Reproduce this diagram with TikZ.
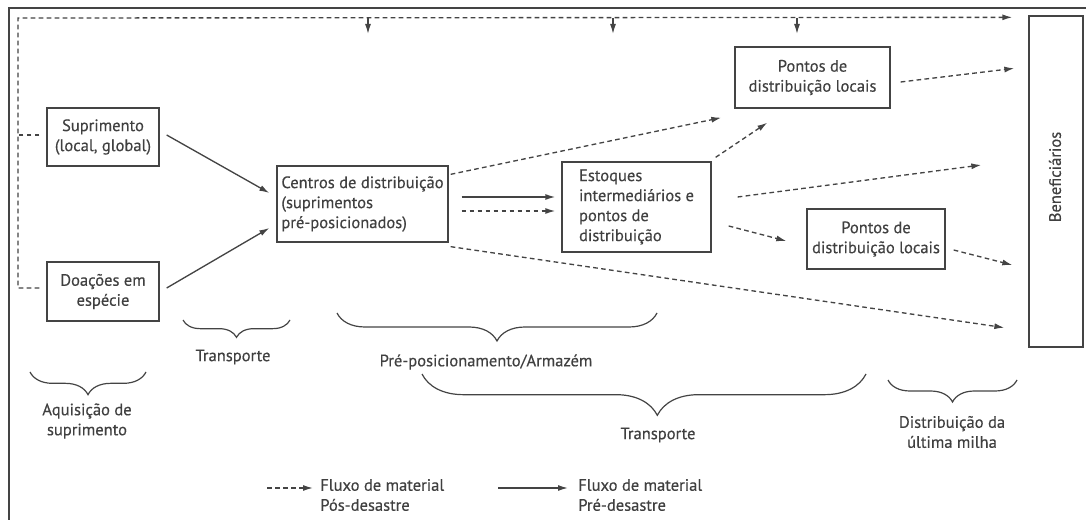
\documentclass[tikz,border=0pt]{standalone}
\usepackage{fontspec}
\setmainfont{PT Sans}
\newfontfamily\medsans[FakeBold=0.4]{PT Sans}
\usetikzlibrary{arrows.meta,calc,decorations.pathreplacing}
\definecolor{ln}{HTML}{444444}
\definecolor{tx}{HTML}{404040}
\begin{document}
\begin{tikzpicture}[x=0.75pt,y=-0.75pt,
  font=\medsans\fontsize{12.4}{15}\selectfont, text=tx,
  box/.style={draw=ln, line width=1pt, inner sep=0pt, align=center},
  flow/.style={draw=ln, line width=1pt, -{Latex[length=7.5pt,width=4.5pt]}},
  post/.style={flow, dash pattern=on 3.5pt off 2.5pt},
  pre/.style={flow},
  dashln/.style={draw=ln, line width=1pt, dash pattern=on 3.5pt off 2.5pt},
  brc/.style={draw=ln, line width=0.9pt, decorate, decoration={brace, mirror, amplitude=#1}},
  lbl/.style={align=center, inner sep=0pt}]

\useasboundingbox (0,0) rectangle (1086,520);
\draw[ln, line width=1pt] (1086,8) -- (9,8) -- (9,520);

% boxes
\node[box, minimum width=84pt, minimum height=43.5pt] (sup) at (103,137) {Suprimento\\(local, global)};
\node[box, minimum width=84pt, minimum height=44.25pt] (doa) at (103,291.5) {Doações em\\espécie};
\node[box, align=left, minimum width=128.25pt, minimum height=57pt] (cen) at (362.5,204) {Centros de distribuição\\(suprimentos\\pré-posicionados)};
\node[box, align=left, minimum width=111.75pt, minimum height=67.5pt] (est) at (636.5,207) {Estoques\\intermediários e\\pontos de\\distribuição};
\node[box, minimum width=116.25pt, minimum height=45.75pt] (p1) at (812.5,77.5) {Pontos de\\distribuição locais};
\node[box, minimum width=103.5pt, minimum height=45pt] (p2) at (876,239) {Pontos de\\distribuição locais};
\node[box, minimum width=40.5pt, minimum height=248.25pt] (ben) at (1056,181.5) {};
\node[rotate=90, inner sep=0pt] (bentext) at (1055,177) {Beneficiários};

% pre-disaster flows
\draw[pre] ($(sup.east)+(7,-2)$) -- ($(cen.west)+(-7,-11)$);
\draw[pre] ($(doa.east)+(7,-3.5)$) -- ($(cen.west)+(-7,24)$);
\draw[pre] ($(cen.east)+(13,-7)$) -- ($(est.west)+(-6,-10)$);

% post-disaster flows
\draw[post] ($(cen.east)+(13,7)$) -- ($(est.west)+(-6,4)$);
\draw[post] ($(cen.north east)+(2,9)$) -- ($(p1.south west)+(-13,9)$);
\draw[post] ($(est.north east)+(4,-4)$) -- ($(p1.south west)+(33,14)$);
\draw[post] ($(p1.east)+(10,4.5)$) -- ($(ben.north west)+(-14,53)$);
\draw[post] ($(est.east)+(26,-10)$) -- ($(ben.west)+(-47,-16.5)$);
\draw[post] ($(est.east)+(17,19)$) -- ($(p2.west)+(-20,2)$);
\draw[post] ($(p2.east)+(8,11)$) -- ($(ben.west)+(-16,83.5)$);
\draw[post] ($(cen.south east)+(2,4)$) -- ($(ben.south west)+(-24,-20)$);

% top feedback loop
\coordinate (lcor) at (18,288);
\coordinate (lmid) at (18,135);
\coordinate (tcor) at (18,18);
\draw[post] ($(doa.west)+(-7,-3.5)$) -- (lcor) -- (tcor) -- ($(ben.north west)+(-16,2)$);
\draw[dashln] ($(sup.west)+(-7,-2)$) -- (lmid);
\foreach \xx/\nm in {368/a,613/b,797/c}{
  \coordinate (top\nm) at (\xx,18);
  \coordinate (tip\nm) at (\xx,34);
  \draw[pre] (top\nm) -- (tip\nm);
}

% braces
\draw[brc=17pt] (30,372) -- (146,372);
\node[lbl] (laq) at (87,421) {Aquisição de\\suprimento};
\draw[brc=13pt] (183,320) -- (290,320);
\node[lbl] (ltr1) at (233,357) {Transporte};
\draw[brc=21pt] (337,313) -- (657,313);
\node[lbl] (lpre) at (486,362) {Pré-posicionamento/Armazém};
\draw[draw=ln, line width=0.9pt, decorate, decoration={brace, mirror, amplitude=31pt, aspect=0.53}] (422,374) -- (866,374);
\node[lbl] (ltr2) at (658,435) {Transporte};
\draw[brc=16.5pt] (888,380) -- (1017,380);
\node[lbl] (ldist) at (952,432) {Distribuição da\\última milha};

% legend
\coordinate (lg1a) at (267,488);
\coordinate (lg1b) at (313,488);
\draw[post] (lg1a) -- (lg1b);
\node[lbl, align=left, anchor=west] (lgt1) at (320,495) {Fluxo de material\\Pós-desastre};
\coordinate (lg2a) at (498,488);
\coordinate (lg2b) at (568,488);
\draw[pre] (lg2a) -- (lg2b);
\node[lbl, align=left, anchor=west] (lgt2) at (578,495) {Fluxo de material\\Pré-desastre};
\end{tikzpicture}
\end{document}
